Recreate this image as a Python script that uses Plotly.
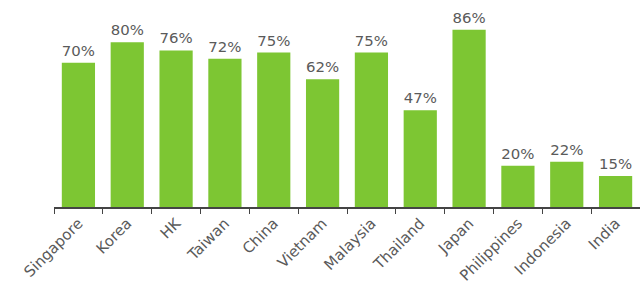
import plotly.graph_objects as go

countries = ["Singapore", "Korea", "HK", "Taiwan", "China", "Vietnam", "Malaysia",
             "Thailand", "Japan", "Philippines", "Indonesia", "India"]
values = [70, 80, 76, 72, 75, 62, 75, 47, 86, 20, 22, 15]
labels = [f"{v}%" for v in values]

fig = go.Figure(go.Bar(
    x=countries, y=values, text=labels, textposition="outside",
    textfont=dict(size=15, color="#5a5a5a", family="DejaVu Sans"),
    marker=dict(color="#7dc633", line=dict(width=0)),
    cliponaxis=False,
))
fig.update_layout(
    width=640, height=288, margin=dict(l=54, r=0, t=0, b=81),
    paper_bgcolor="white", plot_bgcolor="white",
    bargap=0.32, showlegend=False,
    font=dict(family="DejaVu Sans", color="#5a5a5a"),
)
fig.update_xaxes(
    showline=True, linecolor="#444444", linewidth=1.5,
    ticks="outside", tickson="boundaries", ticklen=5, tickcolor="#444444",
    tickangle=-45, tickfont=dict(size=15, color="#5a5a5a"),
    showgrid=False,
)
fig.update_yaxes(range=[0, 100.5], visible=False, showgrid=False)
fig.write_html("out.html")
